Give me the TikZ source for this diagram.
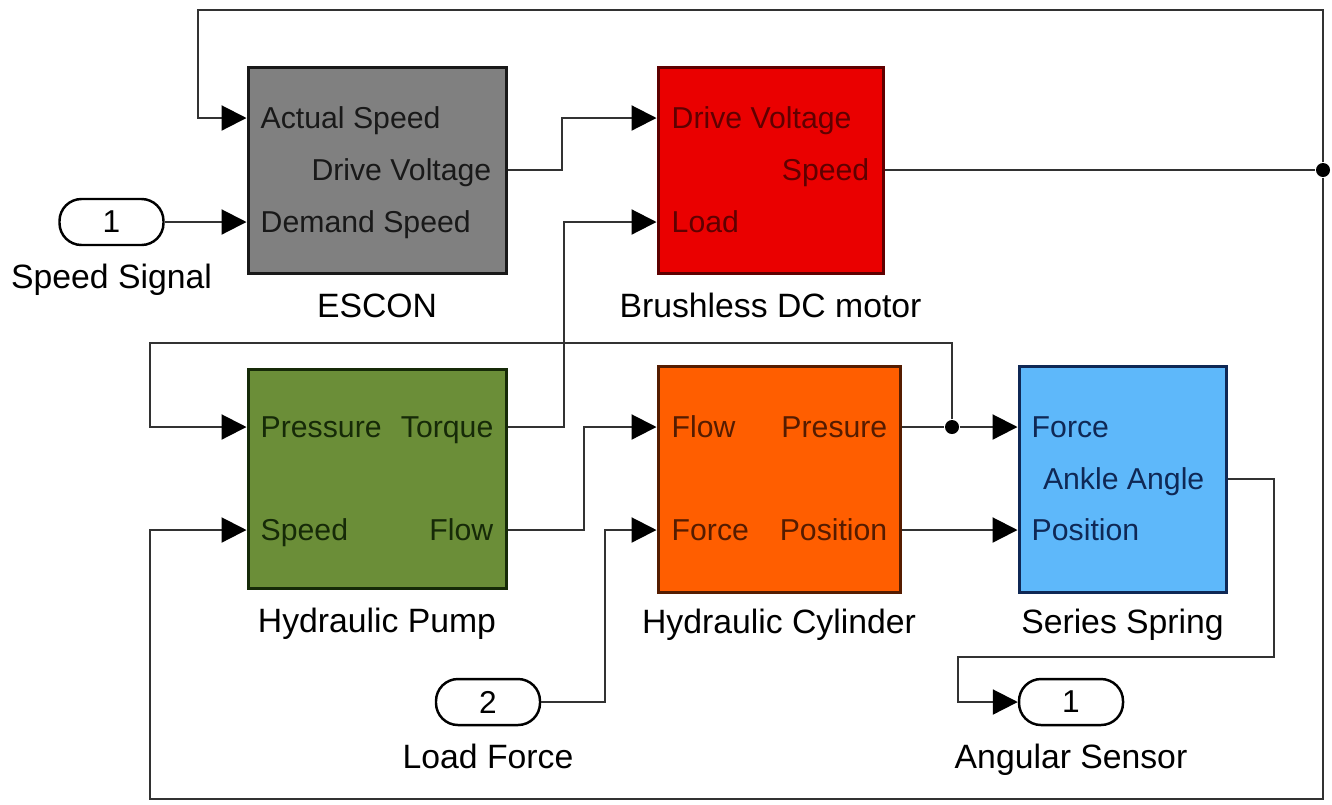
\documentclass[tikz,border=0pt]{standalone}
\usepackage{fontspec}
\setmainfont{Liberation Sans}
\usepackage{tikz}
\usetikzlibrary{arrows.meta,positioning}
\definecolor{escongray}{RGB}{128,128,128}
\definecolor{escontext}{RGB}{25,25,25}
\definecolor{motorred}{RGB}{234,0,0}
\definecolor{motortext}{RGB}{95,0,0}
\definecolor{pumpgreen}{RGB}{107,142,56}
\definecolor{pumptext}{RGB}{22,42,8}
\definecolor{cylorange}{RGB}{255,94,0}
\definecolor{cyltext}{RGB}{85,28,0}
\definecolor{springblue}{RGB}{94,184,250}
\definecolor{springtext}{RGB}{15,40,85}
\definecolor{wirecol}{RGB}{50,50,50}

\begin{document}
\begin{tikzpicture}[blk/.style={draw,line width=0.85pt,inner sep=0,minimum height=2.06cm},
port/.style={inner sep=0,text height=2.1mm,text depth=0pt,font=\fontsize{8.6}{10}\selectfont},
blklabel/.style={inner sep=0,text height=2.4mm,text depth=0.7mm,font=\fontsize{9.6}{11}\selectfont},
io/.style={draw=black,line width=0.7pt,rounded corners=2.2mm,minimum width=1.04cm,minimum height=0.46cm,
  inner sep=0,font=\fontsize{9}{10}\selectfont},
wire/.style={draw=wirecol,line width=0.6pt},
sig/.style={wire,-{Triangle[length=2.5mm,width=2.5mm,color=black]}},
dot/.style={circle,fill=black,inner sep=0,minimum size=1.4mm}]
\useasboundingbox (0,0) rectangle (13.32,8.04);
% blocks
\node[blk,fill=escongray,draw=escontext,minimum width=2.58cm] (escon) at (3.77,6.34) {};
\node[blk,fill=motorred,draw=motortext,minimum width=2.25cm] (motor) at (7.705,6.34) {};
\node[blk,fill=pumpgreen,draw=pumptext,minimum width=2.58cm,minimum height=2.19cm] (pump) at (3.77,3.255) {};
\node[blk,fill=cylorange,draw=cyltext,minimum width=2.42cm,minimum height=2.26cm] (cyl) at (7.79,3.25) {};
\node[blk,fill=springblue,draw=springtext,minimum width=2.07cm,minimum height=2.26cm] (spring) at (11.225,3.25) {};
\node[blklabel,below=1.8mm of escon] {ESCON};
\node[blklabel,below=1.8mm of motor] {Brushless DC motor};
\node[blklabel,below=1.8mm of pump] {Hydraulic Pump};
\node[blklabel,below=1.5mm of cyl] {Hydraulic Cylinder};
\node[blklabel,below=1.5mm of spring] {Series Spring};
% ports
\foreach \n/\a/\x/\y/\t in {esc-as/west/2.60/6.86/Actual Speed,esc-dv/east/4.92/6.34/Drive Voltage,
  esc-ds/west/2.60/5.82/Demand Speed}
  \node[port,anchor=\a,text=escontext] (\n) at (\x,\y) {\t};
\foreach \n/\a/\x/\y/\t in {mot-dv/west/6.71/6.86/Drive Voltage,mot-sp/east/8.70/6.34/Speed,
  mot-ld/west/6.71/5.82/Load}
  \node[port,anchor=\a,text=motortext] (\n) at (\x,\y) {\t};
\foreach \n/\a/\x/\y/\t in {pmp-pr/west/2.60/3.77/Pressure,pmp-tq/east/4.94/3.77/Torque,
  pmp-sp/west/2.60/2.74/Speed,pmp-fl/east/4.94/2.74/Flow}
  \node[port,anchor=\a,text=pumptext] (\n) at (\x,\y) {\t};
\foreach \n/\a/\x/\y/\t in {cyl-fl/west/6.71/3.77/Flow,cyl-pr/east/8.88/3.77/Presure,
  cyl-fo/west/6.71/2.74/Force,cyl-po/east/8.88/2.74/Position}
  \node[port,anchor=\a,text=cyltext] (\n) at (\x,\y) {\t};
\foreach \n/\a/\x/\y/\t in {spr-fo/west/10.31/3.77/Force,spr-aa/east/12.05/3.25/Ankle Angle,
  spr-po/west/10.31/2.74/Position}
  \node[port,anchor=\a,text=springtext] (\n) at (\x,\y) {\t};
% in and out ports
\node[io] (in1) at (1.115,5.82) {1};
\node[blklabel,below=1.8mm of in1] {Speed Signal};
\node[io] (in2) at (4.88,1.02) {2};
\node[blklabel,below=1.8mm of in2] {Load Force};
\node[io] (out1) at (10.71,1.02) {1};
\node[blklabel,below=1.8mm of out1] {Angular Sensor};
\node[dot] (j1) at (13.23,6.34) {};
\node[dot] (j2) at (9.52,3.77) {};
% wires
\draw[sig] (in1) -- (escon.west |- esc-ds);
\draw[sig] (escon.east |- esc-dv) -- (5.62,6.34) |- (motor.west |- mot-dv);
\draw[wire] (motor.east |- mot-sp) -- (j1);
\draw[sig] (j1) |- (1.98,7.94) |- (escon.west |- esc-as);
\draw[sig] (j1) |- (1.50,0.05) |- (pump.west |- pmp-sp);
\draw[sig] (pump.east |- pmp-tq) -- (5.64,3.77) |- (motor.west |- mot-ld);
\draw[sig] (pump.east |- pmp-fl) -- (5.84,2.74) |- (cyl.west |- cyl-fl);
\draw[sig] (in2) -- (6.05,1.02) |- (cyl.west |- cyl-fo);
\draw[wire] (cyl.east |- cyl-pr) -- (j2);
\draw[sig] (j2) -- (spring.west |- spr-fo);
\draw[sig] (j2) |- (1.50,4.61) |- (pump.west |- pmp-pr);
\draw[sig] (cyl.east |- cyl-po) -- (spring.west |- spr-po);
\draw[sig] (spring.east |- spr-aa) -| (12.74,1.47) -| (9.58,1.02) -- (out1);
\end{tikzpicture}
\end{document}
